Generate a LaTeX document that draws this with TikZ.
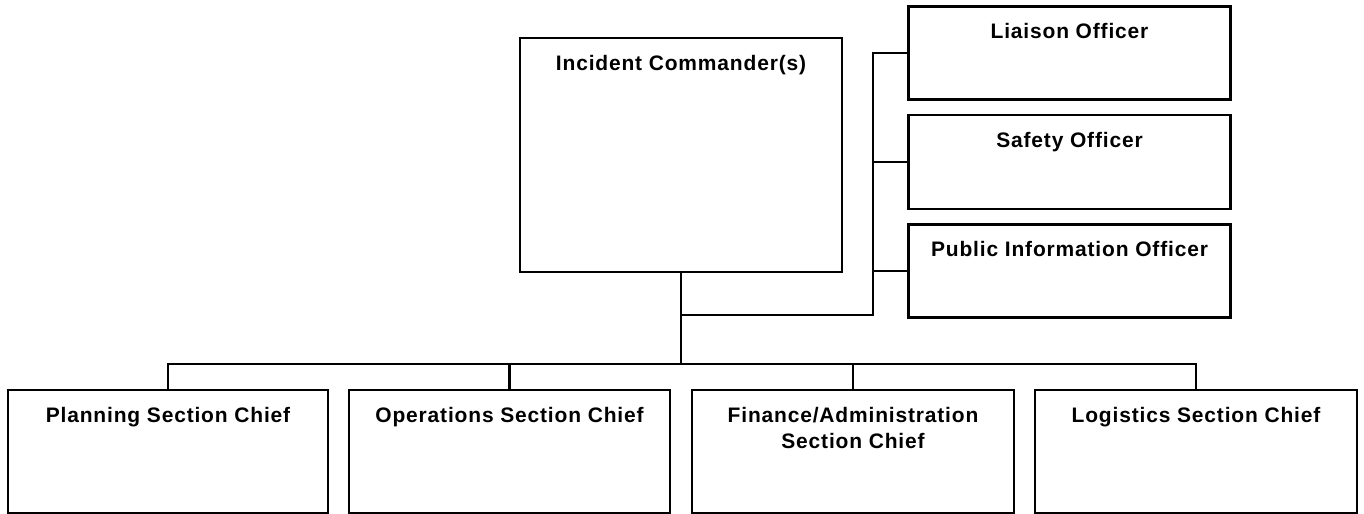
\documentclass[tikz,border=0pt]{standalone}
\usepackage{fontspec}
\newfontfamily\boxfont[LetterSpace=4]{Liberation Sans Bold}
\begin{document}
\begin{tikzpicture}[x=0.03cm, y=-0.03cm, line width=0.075cm,
    chart box/.style={draw, inner sep=0pt, minimum width=9.66cm},
    officer box/.style={chart box, minimum height=2.78cm},
    section box/.style={chart box, minimum height=3.69cm},
    box title/.style={anchor=north, yshift=-0.51cm, inner sep=0pt, align=center,
        font=\boxfont\fontsize{17.9pt}{22.2pt}\selectfont}]
    \useasboundingbox (0,0) rectangle (1364,514);
    \node[chart box, minimum height=7.02cm, label={[box title]north:Incident Commander(s)}] (ic) at (681,155) {};
    \node[officer box, label={[box title]north:Liaison Officer}] (liaison) at (1069.5,53) {};
    \node[officer box, minimum height=2.82cm, label={[box title]north:Safety Officer}] (safety) at (1069.5,162) {};
    \node[officer box, label={[box title]north:Public Information Officer}] (pio) at (1069.5,271) {};
    \node[section box, minimum width=9.6cm, label={[box title]north:Planning Section Chief}] (planning) at (168,451.5) {};
    \node[section box, minimum width=9.63cm, label={[box title]north:Operations Section Chief}] (operations) at (509.5,451.5) {};
    \node[section box, label={[box title]north:Finance/Administration\\Section Chief}] (finance) at (853,451.5) {};
    \node[section box, label={[box title]north:Logistics Section Chief}] (logistics) at (1196,451.5) {};
    \coordinate (bar) at (0,364);
    \coordinate (split) at (873,315);
    % command staff
    \draw (ic.south |- split) -- (split) |- (liaison.west);
    \draw (split |- safety.west) -- (safety.west);
    \draw (split |- pio.west) -- (pio.west);
    % general staff
    \draw (ic.south) -- (ic.south |- bar);
    \draw (planning.north) -- (planning.north |- bar) -- (logistics.north |- bar) -- (logistics.north);
    \draw (operations.north) -- (operations.north |- bar);
    \draw (finance.north) -- (finance.north |- bar);
\end{tikzpicture}
\end{document}
